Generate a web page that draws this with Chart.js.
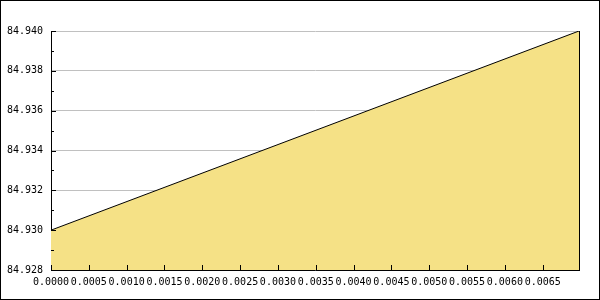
<!DOCTYPE html>
<html>
<head>
<meta charset="utf-8">
<script src="https://cdn.jsdelivr.net/npm/chart.js@4/dist/chart.umd.min.js"></script>
<style>
  html, body { margin: 0; padding: 0; background: #fff; }
  #wrap { width: 600px; height: 300px; }
</style>
</head>
<body>
<div id="wrap"><canvas id="chart" width="600" height="300"></canvas></div>
<script>
// data
const xValues = [0, 0.00698];
const yValues = [84.930, 84.940];
const xTicks = [0, 0.0005, 0.001, 0.0015, 0.002, 0.0025, 0.003, 0.0035, 0.004, 0.0045, 0.005, 0.0055, 0.006, 0.0065];
const yTicks = [84.928, 84.929, 84.930, 84.931, 84.932, 84.933, 84.934, 84.935, 84.936, 84.937, 84.938, 84.939, 84.940];
const yLabelEvery = 2;

const points = xValues.map((x, i) => ({ x: x, y: yValues[i] }));

// ticks marks + right edge + outer frame
const framePlugin = {
  id: 'frame',
  afterDraw(chart) {
    const ctx = chart.ctx;
    const area = chart.chartArea;
    const xs = chart.scales.x;
    const ys = chart.scales.y;
    ctx.save();
    ctx.strokeStyle = '#000';
    ctx.lineWidth = 1;
    ctx.beginPath();
    // y ticks, inside the plot
    yTicks.forEach((v, i) => {
      const py = Math.round(ys.getPixelForValue(v)) + 0.5;
      const len = i % yLabelEvery === 0 ? 5 : 3;
      ctx.moveTo(area.left, py);
      ctx.lineTo(area.left + len, py);
    });
    // x ticks, inside the plot
    xTicks.forEach(v => {
      const px = Math.round(xs.getPixelForValue(v)) + 0.5;
      ctx.moveTo(px, area.bottom);
      ctx.lineTo(px, area.bottom - 5);
    });
    // right edge of plot
    const rx = Math.round(area.right) + 0.5;
    ctx.moveTo(rx, Math.round(area.top));
    ctx.lineTo(rx, Math.round(area.bottom) + 1);
    ctx.stroke();
    // outer frame
    ctx.strokeRect(0.5, 0.5, chart.width - 1, chart.height - 1);
    ctx.restore();
  }
};

new Chart(document.getElementById('chart').getContext('2d'), {
  type: 'line',
  data: {
    datasets: [{
      data: points,
      borderColor: '#000',
      borderWidth: 1,
      backgroundColor: '#f5e186',
      fill: 'start',
      pointRadius: 0,
      tension: 0
    }]
  },
  options: {
    responsive: false,
    animation: false,
    events: [],
    layout: { padding: { left: 0, right: 21, top: 31, bottom: 0 } },
    plugins: { legend: { display: false }, tooltip: { enabled: false } },
    scales: {
      x: {
        type: 'linear',
        min: 0,
        max: 0.00698,
        afterBuildTicks: s => { s.ticks = xTicks.map(v => ({ value: v })); },
        afterFit: s => { s.height = 30; },
        grid: { display: false, drawTicks: false },
        border: { display: true, color: '#000', width: 1 },
        ticks: {
          padding: 6,
          maxRotation: 0,
          autoSkip: false,
          color: '#000',
          font: { family: 'DejaVu Sans Mono', size: 10 },
          callback: v => Number(v).toFixed(4)
        }
      },
      y: {
        min: 84.928,
        max: 84.940,
        afterBuildTicks: s => { s.ticks = yTicks.map(v => ({ value: v })); },
        afterFit: s => { s.width = 51; },
        grid: {
          drawTicks: false,
          color: ctx => (ctx.index % yLabelEvery === 0 ? '#c0c0c0' : 'rgba(0,0,0,0)'),
          lineWidth: 1
        },
        border: { display: true, color: '#000', width: 1 },
        ticks: {
          padding: 8,
          autoSkip: false,
          color: '#000',
          font: { family: 'DejaVu Sans Mono', size: 10 },
          callback: (v, i) => (i % yLabelEvery === 0 ? Number(v).toFixed(3) : '')
        }
      }
    }
  },
  plugins: [framePlugin]
});
</script>
</body>
</html>
